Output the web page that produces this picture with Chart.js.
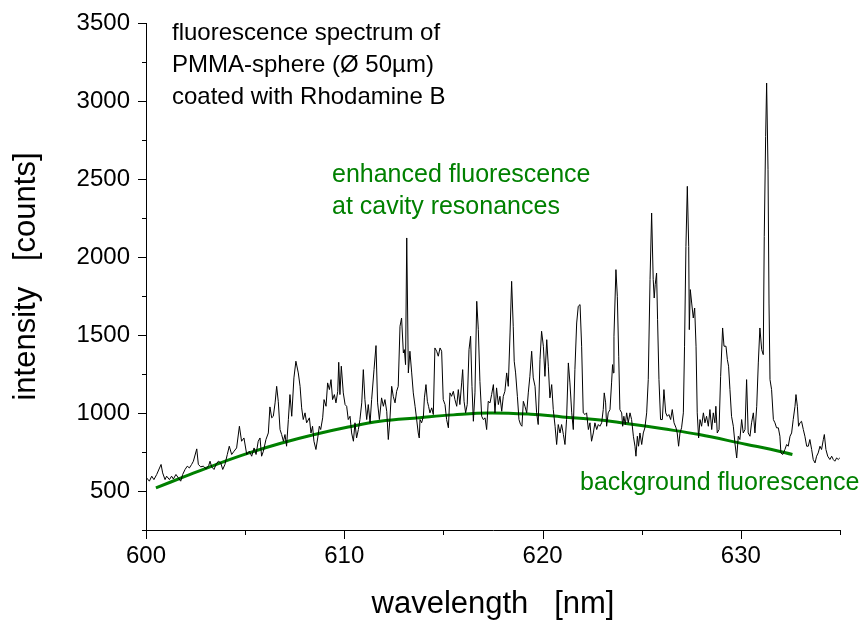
<!DOCTYPE html>
<html>
<head>
<meta charset="utf-8">
<title>fluorescence spectrum</title>
<script src="https://cdn.jsdelivr.net/npm/chart.js@4.4.1/dist/chart.umd.min.js"></script>
<style>
  body { margin: 0; background: #fff; }
  canvas { display: block; }
</style>
</head>
<body>
<canvas id="spectrum" width="861" height="623"></canvas>
<script>
// wavelength [nm] and counts
const wavelength = [
  600.03, 600.17, 600.29, 600.40, 600.54, 600.76, 600.84, 600.96, 601.04, 601.18,
  601.29, 601.38, 601.51, 601.63, 601.75, 601.85, 601.97, 602.08, 602.19, 602.30,
  602.39, 602.56, 602.64, 602.76, 602.89, 603.03, 603.16, 603.23, 603.31, 603.43,
  603.53, 603.65, 603.77, 603.87, 603.98, 604.10, 604.20, 604.32, 604.44, 604.57,
  604.71, 604.82, 604.94, 605.08, 605.21, 605.33, 605.45, 605.55, 605.66, 605.75,
  605.83, 605.92, 606.05, 606.17, 606.25, 606.34, 606.42, 606.51, 606.59, 606.67,
  606.76, 606.84, 606.93, 607.01, 607.09, 607.18, 607.26, 607.35, 607.46, 607.56,
  607.68, 607.77, 607.85, 607.93, 608.02, 608.10, 608.24, 608.32, 608.40, 608.47,
  608.57, 608.66, 608.74, 608.81, 608.91, 608.98, 609.08, 609.16, 609.25, 609.33,
  609.41, 609.50, 609.58, 609.67, 609.72, 609.78, 609.85, 609.95, 610.04, 610.12,
  610.20, 610.29, 610.37, 610.46, 610.54, 610.62, 610.71, 610.79, 610.88, 610.96,
  611.04, 611.13, 611.21, 611.30, 611.38, 611.50, 611.60, 611.68, 611.77, 611.88,
  611.97, 612.05, 612.14, 612.22, 612.30, 612.39, 612.47, 612.56, 612.64, 612.72,
  612.81, 612.89, 612.98, 613.03, 613.09, 613.15, 613.23, 613.31, 613.40, 613.48,
  613.57, 613.65, 613.73, 613.78, 613.82, 613.90, 613.99, 614.04, 614.12, 614.19,
  614.25, 614.32, 614.41, 614.49, 614.57, 614.66, 614.74, 614.83, 614.91, 614.99,
  615.08, 615.16, 615.25, 615.33, 615.41, 615.50, 615.58, 615.67, 615.75, 615.83,
  615.92, 615.97, 616.04, 616.12, 616.20, 616.29, 616.37, 616.44, 616.51, 616.59,
  616.68, 616.76, 616.84, 616.93, 617.01, 617.10, 617.18, 617.26, 617.35, 617.43,
  617.52, 617.60, 617.68, 617.77, 617.85, 617.94, 618.02, 618.10, 618.19, 618.27,
  618.36, 618.44, 618.52, 618.57, 618.64, 618.73, 618.81, 618.89, 618.96, 619.03,
  619.11, 619.20, 619.28, 619.36, 619.45, 619.53, 619.62, 619.70, 619.78, 619.87,
  619.95, 620.04, 620.12, 620.21, 620.29, 620.37, 620.46, 620.54, 620.63, 620.71,
  620.79, 620.88, 620.96, 621.05, 621.13, 621.21, 621.30, 621.38, 621.47, 621.55,
  621.63, 621.72, 621.80, 621.89, 621.97, 622.05, 622.14, 622.22, 622.31, 622.39,
  622.47, 622.56, 622.64, 622.73, 622.81, 622.89, 622.98, 623.06, 623.11, 623.18,
  623.23, 623.31, 623.40, 623.48, 623.53, 623.57, 623.60, 623.70, 623.77, 623.84,
  623.90, 623.99, 624.04, 624.10, 624.17, 624.24, 624.32, 624.41, 624.49, 624.58,
  624.66, 624.71, 624.78, 624.84, 624.91, 625.00, 625.08, 625.16, 625.25, 625.33,
  625.42, 625.50, 625.58, 625.63, 625.68, 625.75, 625.80, 625.87, 625.95, 626.04,
  626.12, 626.21, 626.29, 626.37, 626.46, 626.54, 626.63, 626.73, 626.79, 626.86,
  626.93, 627.01, 627.10, 627.16, 627.23, 627.30, 627.37, 627.40, 627.45, 627.52,
  627.60, 627.67, 627.74, 627.80, 627.87, 627.94, 628.02, 628.11, 628.19, 628.27,
  628.36, 628.44, 628.53, 628.61, 628.69, 628.74, 628.81, 628.90, 628.98, 629.08,
  629.15, 629.25, 629.32, 629.38, 629.45, 629.53, 629.62, 629.70, 629.79, 629.87,
  629.95, 630.04, 630.12, 630.21, 630.29, 630.37, 630.46, 630.54, 630.63, 630.71,
  630.80, 630.88, 630.96, 631.05, 631.13, 631.18, 631.25, 631.30, 631.37, 631.42,
  631.47, 631.55, 631.64, 631.72, 631.80, 631.89, 631.97, 632.02, 632.11, 632.22,
  632.31, 632.39, 632.48, 632.56, 632.64, 632.73, 632.78, 632.85, 632.91, 632.98,
  633.06, 633.15, 633.23, 633.32, 633.40, 633.48, 633.57, 633.65, 633.74, 633.82,
  633.90, 633.99, 634.07, 634.16, 634.21, 634.29, 634.38, 634.49, 634.58, 634.66,
  634.74, 634.83, 634.91, 634.99
];
const counts = [
  584, 563, 595, 573, 606, 670, 616, 573, 595, 573,
  595, 577, 606, 584, 563, 606, 638, 659, 648, 670,
  691, 770, 670, 655, 659, 642, 663, 691, 655, 638,
  670, 691, 680, 638, 670, 734, 787, 734, 755, 776,
  915, 819, 840, 734, 755, 723, 776, 734, 819, 840,
  723, 755, 830, 872, 1039, 969, 979, 1065, 1171, 1075,
  894, 862, 819, 862, 787, 958, 1118, 979, 1225, 1332,
  1257, 1171, 1033, 958, 1001, 937, 969, 872, 915, 819,
  766, 840, 915, 894, 969, 1086, 1043, 1193, 1150, 1214,
  1086, 1118, 1065, 1139, 1325, 1118, 1300, 1129, 1054, 1043,
  958, 979, 872, 819, 937, 840, 894, 958, 1065, 1278,
  1086, 958, 1054, 937, 1086, 1278, 1432, 1065, 958, 1097,
  1043, 1086, 1011, 830, 958, 1171, 1107, 1065, 1139, 1171,
  1556, 1609, 1385, 1406, 1310, 2122, 1257, 1396, 1257, 1129,
  1043, 958, 872, 840, 958, 937, 979, 1097, 1182, 1075,
  1043, 1001, 1033, 990, 1417, 1396, 1364, 1417, 1396, 1086,
  1054, 958, 905, 1129, 1107, 1139, 1086, 1043, 1150, 1054,
  1193, 1278, 1075, 1001, 1054, 1406, 1492, 1171, 947, 1129,
  1716, 1534, 1203, 979, 958, 969, 894, 1075, 1065, 1118,
  1182, 1001, 1161, 1054, 1107, 1011, 1107, 1139, 1257, 1171,
  1513, 1844, 1556, 1332, 1257, 1107, 958, 926, 915, 1075,
  1043, 1001, 1129, 1235, 1396, 1225, 1171, 1001, 926, 1342,
  1524, 1428, 1235, 1470, 1300, 1097, 1182, 1022, 915, 798,
  926, 872, 926, 862, 798, 958, 1321, 1193, 1001, 894,
  1278, 1577, 1684, 1695, 1428, 1001, 990, 1001, 894, 937,
  819, 872, 937, 894, 926, 915, 937, 1022, 1129, 1065,
  915, 1001, 1022, 1193, 1310, 1257, 1492, 1919, 1748, 1364,
  1022, 1001, 915, 979, 926, 1001, 937, 1001, 958, 851,
  787, 723, 851, 787, 872, 798, 872, 905, 1001, 1214,
  1855, 2282, 1855, 1737, 1823, 1897, 1598, 1214, 958, 958,
  1150, 1001, 979, 990, 958, 1022, 937, 905, 872, 787,
  872, 905, 1001, 1428, 2068, 2453, 2068, 1534, 1791, 1705,
  1609, 1673, 1428, 1001, 840, 958, 915, 1001, 937, 979,
  915, 1022, 894, 1001, 937, 1043, 872, 894, 1235, 1545,
  1428, 1428, 1342, 1300, 1150, 979, 915, 808, 712, 851,
  830, 958, 872, 894, 1214, 872, 851, 937, 1001, 872,
  1043, 1321, 1545, 1406, 1374, 2132, 2773, 3115, 2559, 1705,
  1214, 1150, 958, 937, 905, 905, 851, 744, 734, 766,
  798, 787, 851, 872, 958, 1043, 1118, 1043, 915, 937,
  947, 894, 851, 787, 787, 830, 766, 702, 680, 723,
  744, 787, 766, 830, 862, 766, 723, 702, 723, 702,
  691, 712, 702, 712
];

// smooth background fluorescence (green curve)
const bgWavelength = [600.5, 602.0, 603.5, 605.2, 606.8, 608.5, 610.2, 611.8, 613.8, 615.5,
                      617.3, 619.4, 621.0, 622.9, 624.5, 626.0, 627.9, 630.3, 631.5, 632.6];
const bgCounts = [520, 595, 668, 744, 806, 862, 910, 947, 970, 988,
                  1000, 992, 975, 955, 928, 900, 862, 798, 768, 734];

const xTicks = [600, 610, 620, 630];
const xMinor = [605, 615, 625, 635];
const yTicks = [500, 1000, 1500, 2000, 2500, 3000, 3500];
const yMinor = [250, 750, 1250, 1750, 2250, 2750, 3250];

const green = '#008000';
const fontFam = '"Liberation Sans", Arial, Helvetica, sans-serif';

const spectrum = wavelength.map((w, i) => ({ x: w, y: counts[i] }));
const background = bgWavelength.map((w, i) => ({ x: w, y: bgCounts[i] }));

// outward tick marks, long for labelled ticks, short for minor ones
const tickMarks = {
  id: 'tickMarks',
  afterDraw(chart) {
    const { ctx, chartArea, scales } = chart;
    ctx.save();
    ctx.strokeStyle = '#000';
    ctx.lineWidth = 1;
    ctx.beginPath();
    const xs = [...xTicks.map(v => [v, 9]), ...xMinor.map(v => [v, 5])];
    xs.forEach(([v, len]) => {
      const px = Math.round(scales.x.getPixelForValue(v)) + 0.5;
      ctx.moveTo(px, chartArea.bottom);
      ctx.lineTo(px, chartArea.bottom + len);
    });
    const ys = [...yTicks.map(v => [v, 8]), ...yMinor.map(v => [v, 4])];
    ys.forEach(([v, len]) => {
      const py = Math.round(scales.y.getPixelForValue(v)) + 0.5;
      ctx.moveTo(chartArea.left, py);
      ctx.lineTo(chartArea.left - len, py);
    });
    ctx.stroke();
    ctx.restore();
  }
};

const notes = {
  id: 'notes',
  afterDraw(chart) {
    const ctx = chart.ctx;
    ctx.save();
    ctx.textBaseline = 'middle';
    ctx.textAlign = 'left';
    ctx.font = '24px ' + fontFam;
    ctx.fillStyle = '#000';
    ctx.fillText('fluorescence spectrum of', 172, 33);
    ctx.fillText('PMMA-sphere (Ø 50µm)', 172, 65);
    ctx.fillText('coated with Rhodamine B', 172, 97);
    ctx.font = '25px ' + fontFam;
    ctx.fillStyle = green;
    ctx.fillText('enhanced fluorescence', 332, 175);
    ctx.fillText('at cavity resonances', 332, 207);
    ctx.fillText('background fluorescence', 580, 483);
    ctx.restore();
  }
};

const ctx = document.getElementById('spectrum');

new Chart(ctx, {
  type: 'line',
  data: {
    datasets: [{
      data: spectrum,
      borderColor: '#000',
      borderWidth: 1,
      pointRadius: 0,
      tension: 0
    },
    {
      data: background,
      borderColor: green,
      borderWidth: 3,
      pointRadius: 0,
      tension: 0.4
    }]
  },
  options: {
    responsive: false,
    animation: false,
    events: [],
    layout: { padding: { left: 0, right: 21, top: 23, bottom: 0 } },
    plugins: { legend: { display: false }, tooltip: { enabled: false } },
    scales: {
      x: {
        type: 'linear',
        min: 600,
        max: 635,
        afterBuildTicks: s => { s.ticks = xTicks.map(v => ({ value: v })); },
        afterFit: s => { s.height = 93; },
        grid: { display: false, tickLength: 9 },
        border: { display: true, color: '#000', width: 1 },
        ticks: { color: '#000', padding: 3, maxRotation: 0, callback: v => String(v),
                 font: { family: fontFam, size: 24 } },
        title: { display: true, text: 'wavelength   [nm]', color: '#000',
                 font: { family: fontFam, size: 31 }, padding: { top: 0, bottom: 0 } }
      },
      y: {
        min: 250,
        max: 3500,
        afterBuildTicks: s => { s.ticks = yTicks.map(v => ({ value: v })); },
        afterFit: s => { s.width = 146; },
        grid: { display: false, tickLength: 8 },
        border: { display: true, color: '#000', width: 1 },
        ticks: { color: '#000', padding: 8, callback: v => String(v),
                 font: { family: fontFam, size: 24 } },
        title: { display: true, text: 'intensity   [counts]', color: '#000',
                 font: { family: fontFam, size: 31 }, padding: { top: 8, bottom: 0 } }
      }
    }
  },
  plugins: [tickMarks, notes]
});
</script>
</body>
</html>
